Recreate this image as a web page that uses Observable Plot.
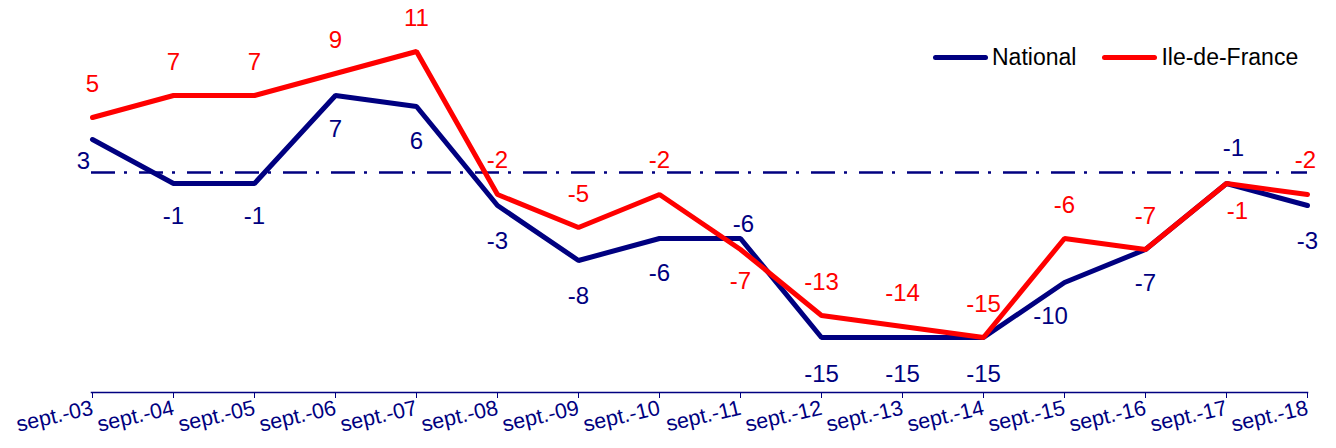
<!DOCTYPE html>
<html>
<head>
<meta charset="utf-8">
<script src="https://cdn.jsdelivr.net/npm/d3@7"></script>
<script src="https://cdn.jsdelivr.net/npm/@observablehq/plot@0.6"></script>
<style>
  body { margin: 0; background: #fff; font-family: "Liberation Sans", Arial, sans-serif; }
  #chart { position: relative; width: 1336px; height: 448px; overflow: hidden; }
  .legend { position: absolute; top: 44px; left: 933px; display: flex; align-items: center; font-size: 23px; line-height: 26px; color: #000; }
  .legend .item { display: flex; align-items: center; margin-right: 26px; }
  .legend .sw { display: inline-block; width: 55px; height: 5px; border-radius: 3px; margin-right: 4px; }
</style>
</head>
<body>
<div id="chart"></div>
<script>
// ---- data ----
const periods = ["sept.-03","sept.-04","sept.-05","sept.-06","sept.-07","sept.-08","sept.-09","sept.-10","sept.-11","sept.-12","sept.-13","sept.-14","sept.-15","sept.-16","sept.-17","sept.-18"];
const national = [3, -1, -1, 7, 6, -3, -8, -6, -6, -15, -15, -15, -10, -7, -1, -3];
const ileDeFrance = [5, 7, 7, 9, 11, -2, -5, -2, -7, -13, -14, -15, -6, -7, -1, -2];
const seriesNames = ["National", "Ile-de-France"];
const seriesColors = ["#000080", "#ff0000"];

// ---- label layout (pixel offsets from each point) ----
const nationalDx = [-9, 0, 0, 0, 0, 0, 0, 0, 3, 0, 0, 0, -14, 0, 7, 0];
const nationalDy = [22, 33, 33, 34, 35, 36, 36, 35, -14, 37, 37, 37, 34, 34, -35, 36];
const idfDx = [0, 0, 0, 0, 0, 0, 0, 0, 0, 0, 0, 0, 0, 0, 11, -2];
const idfDy = [-33, -33, -33, -33, -33, -34, -33, -34, 32, -33, -33, -33, -33, -33, 28, -34];

const rows = (vals) => periods.map((p, i) => ({period: p, value: vals[i], i}));
const natRows = rows(national);
const idfRows = rows(ileDeFrance);

const labelMarks = (data, dxs, dys, color) => data.map((d, i) =>
  Plot.text([d], {x: "period", y: "value", text: d => String(d.value), dx: dxs[i], dy: dys[i], fill: color, fontSize: 24})
);

const plot = Plot.plot({
  width: 1336,
  height: 448,
  marginLeft: 91,
  marginRight: 29,
  marginTop: 7,
  marginBottom: 56,
  style: {fontFamily: "'Liberation Sans', Arial, sans-serif", background: "#fff"},
  x: {type: "point", domain: periods, padding: 0},
  y: {domain: [-20, 15], axis: null},
  marks: [
    Plot.ruleY([0], {stroke: "#000080", strokeWidth: 2.6, strokeDasharray: "24,9,3,12"}),
    Plot.frame({anchor: "bottom", stroke: "#000080", strokeWidth: 1.5}),
    Plot.axisX({tickRotate: -13, fontSize: 21.5, color: "#000080", tickSize: 6, tickPadding: 9, label: null}),
    Plot.line(natRows, {x: "period", y: "value", stroke: seriesColors[0], strokeWidth: 5, strokeLinejoin: "miter"}),
    Plot.line(idfRows, {x: "period", y: "value", stroke: seriesColors[1], strokeWidth: 5, strokeLinejoin: "miter"}),
    ...labelMarks(natRows, nationalDx, nationalDy, seriesColors[0]),
    ...labelMarks(idfRows, idfDx, idfDy, seriesColors[1])
  ]
});

const chart = document.getElementById("chart");
chart.appendChild(plot);

const legend = document.createElement("div");
legend.className = "legend";
seriesNames.forEach((name, k) => {
  const item = document.createElement("span");
  item.className = "item";
  const sw = document.createElement("span");
  sw.className = "sw";
  sw.style.background = seriesColors[k];
  const t = document.createElement("span");
  t.textContent = name;
  item.appendChild(sw);
  item.appendChild(t);
  legend.appendChild(item);
});
chart.appendChild(legend);
</script>
</body>
</html>
